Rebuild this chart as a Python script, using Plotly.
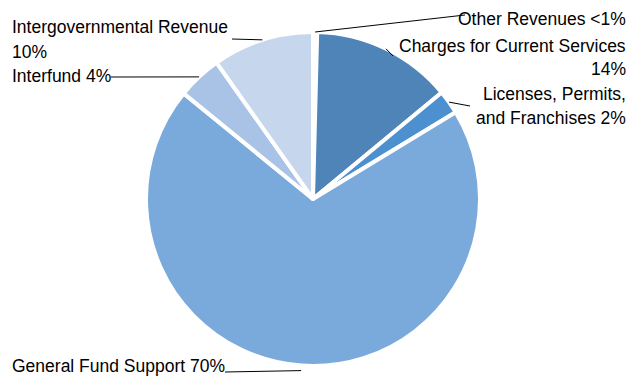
import math
import plotly.graph_objects as go

# Revenue sources, in slice order (clockwise from 12 o'clock)
categories = [
    "Other Revenues",
    "Charges for Current Services",
    "Licenses, Permits, and Franchises",
    "General Fund Support",
    "Interfund",
    "Intergovernmental Revenue",
]
shares = [0.4, 13.6, 2.3, 69.6, 4.3, 9.8]  # percent of total
colors = ["#ffffff", "#4e84b8", "#4c90cf", "#7aaadb", "#a8c3e6", "#c6d6ec"]

W, H = 632, 379
CX, CY, R = 313, 199, 167  # pie centre and radius in pixels

FONT = "Liberation Sans, Arial, sans-serif"
FS = 17.5


def pct_text(v):
    return "<1%" if v < 1 else f"{round(v):d}%"


# label lines per slice: how the "name pct" text wraps
def label_lines(name, v):
    p = pct_text(v)
    if name == "Charges for Current Services":
        return [name, p]
    if name == "Licenses, Permits, and Franchises":
        return ["Licenses, Permits,", f"and Franchises {p}"]
    if name == "Intergovernmental Revenue":
        return [name, p]
    return [f"{name} {p}"]


# text placement: (x, anchor, [y of each line]) in pixels
placement = {
    "Other Revenues": (628, "right", [19]),
    "Charges for Current Services": (628, "right", [46, 69]),
    "Licenses, Permits, and Franchises": (628, "right", [94, 118]),
    "General Fund Support": (10, "left", [366]),
    "Interfund": (10, "left", [76]),
    "Intergovernmental Revenue": (10, "left", [27, 52]),
}
# leader lines: radial factor of the pie end, and the label-side end (px)
leaders = {
    "Other Revenues": (1.0, (465, 15)),
    "Charges for Current Services": (1.0, (393, 56)),
    "Licenses, Permits, and Franchises": (1.0, (470, 106)),
    "General Fund Support": (1.03, (225, 372)),
    "Interfund": (1.0, (111, 77)),
    "Intergovernmental Revenue": (1.0, (232, 39)),
}


def px(x, y):
    return x / W, 1 - y / H


fig = go.Figure(
    go.Pie(
        labels=categories,
        values=shares,
        sort=False,
        direction="clockwise",
        rotation=0,
        marker=dict(colors=colors, line=dict(color="#ffffff", width=4)),
        textinfo="none",
        hoverinfo="label+percent",
        showlegend=False,
        domain=dict(
            x=[(CX - R) / W, (CX + R) / W],
            y=[1 - (CY + R) / H, 1 - (CY - R) / H],
        ),
    )
)

total = sum(shares)
cum = 0.0
annotations, shapes = [], []
for name, v in zip(categories, shares):
    mid = (cum + v / 2) / total * 2 * math.pi
    cum += v
    rf, (lx, ly) = leaders[name]
    ex = CX + R * rf * math.sin(mid)
    ey = CY - R * rf * math.cos(mid)
    x0, y0 = px(ex, ey)
    x1, y1 = px(lx, ly)
    shapes.append(dict(type="line", xref="paper", yref="paper",
                       x0=x0, y0=y0, x1=x1, y1=y1,
                       line=dict(color="#000000", width=1)))
    tx, anchor, ys = placement[name]
    for line, ty in zip(label_lines(name, v), ys):
        ax, ay = px(tx, ty)
        annotations.append(dict(
            text=line, xref="paper", yref="paper", x=ax, y=ay,
            xanchor=anchor, yanchor="middle", showarrow=False,
            font=dict(family=FONT, size=FS, color="#000000"),
        ))

fig.update_layout(
    width=W, height=H,
    margin=dict(l=0, r=0, t=0, b=0),
    paper_bgcolor="#ffffff",
    plot_bgcolor="#ffffff",
    annotations=annotations,
    shapes=shapes,
)

fig.write_html("out.html")
